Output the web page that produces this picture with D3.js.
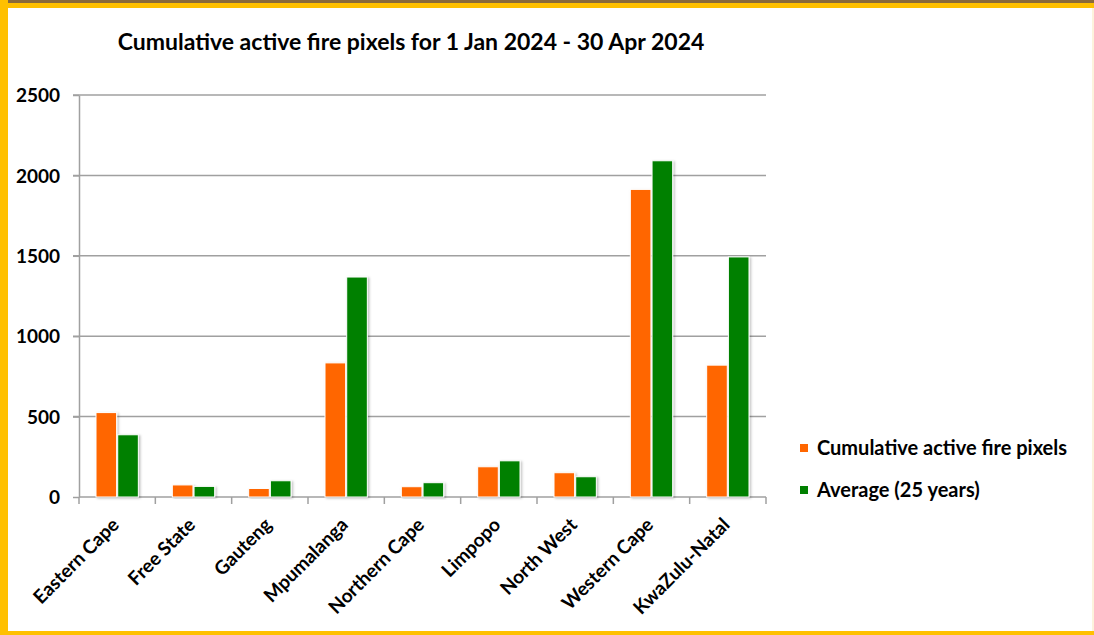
<!DOCTYPE html>
<meta charset="utf-8">
<style>
  body { margin: 0; background: #fff; }
  text { font-family: Lato, "Open Sans", sans-serif; font-weight: bold; fill: #000; }
  .grid line { stroke: #a0a0a0; stroke-width: 1.5px; }
  .axis path, .axis line { stroke: #a0a0a0; stroke-width: 1.5px; }
</style>
<body></body>
<script src="https://d3js.org/d3.v7.min.js"></script>
<script>
  var provinces = ["Eastern Cape", "Free State", "Gauteng", "Mpumalanga", "Northern Cape",
    "Limpopo", "North West", "Western Cape", "KwaZulu-Natal"];
  var cumulative = [525, 75, 53, 834, 64, 188, 151, 1913, 820];
  var average = [387, 66, 101, 1368, 89, 225, 126, 2091, 1493];
  var seriesNames = ["Cumulative active fire pixels", "Average (25 years)"];
  var seriesColors = ["#ff6600", "#008000"];
  var yTicks = [0, 500, 1000, 1500, 2000, 2500];

  var W = 1094, H = 635;
  var plotLeft = 79, plotRight = 766, plotTop = 95, plotBottom = 497;

  var svg = d3.select("body").append("svg")
    .attr("width", W)
    .attr("height", H);

  var defs = svg.append("defs");
  var f = defs.append("filter").attr("id", "shadow")
    .attr("x", "-20%").attr("y", "-5%").attr("width", "150%").attr("height", "120%");
  f.append("feDropShadow").attr("dx", 1.5).attr("dy", 1).attr("stdDeviation", 1)
    .attr("flood-color", "#000").attr("flood-opacity", 0.25);

  // frame
  svg.append("rect").attr("width", W).attr("height", H).attr("fill", "#fff");
  svg.append("rect").attr("x", 0).attr("y", 0).attr("width", W).attr("height", 3).attr("fill", "#8a6a3a");
  svg.append("rect").attr("x", 0).attr("y", 3).attr("width", W).attr("height", 5).attr("fill", "#ffc000");
  svg.append("rect").attr("x", 0).attr("y", 0).attr("width", 8).attr("height", H).attr("fill", "#ffc000");
  svg.append("rect").attr("x", 0).attr("y", 631).attr("width", W).attr("height", 4).attr("fill", "#ffc000");
  svg.append("rect").attr("x", 1092).attr("y", 8).attr("width", 2).attr("height", 623).attr("fill", "#fdf3dc");

  var x = d3.scaleBand().domain(provinces).range([plotLeft, plotRight]);
  var x1 = d3.scaleBand().domain([0, 1]).range([17, x.bandwidth() - 17]).paddingInner(0.05);
  var y = d3.scaleLinear().domain([0, 2500]).range([plotBottom, plotTop]);

  svg.append("text")
    .attr("x", 411)
    .attr("y", 50)
    .attr("text-anchor", "middle")
    .style("font-size", "23px")
    .text("Cumulative active fire pixels for 1 Jan 2024 - 30 Apr 2024");

  // gridlines
  svg.append("g").attr("class", "grid")
    .selectAll("line")
    .data(yTicks.slice(1))
    .join("line")
    .attr("x1", plotLeft - 6).attr("x2", plotRight)
    .attr("y1", d => y(d)).attr("y2", d => y(d));

  // y axis
  var yAxis = svg.append("g").attr("class", "axis")
    .attr("transform", "translate(" + plotLeft + ",0)")
    .call(d3.axisLeft(y).tickValues(yTicks).tickFormat(d3.format("d"))
      .tickSize(6).tickSizeOuter(0).tickPadding(13));
  yAxis.selectAll("text").style("font-size", "19px").attr("dy", "0.35em");

  // x axis
  var xAxis = svg.append("g").attr("class", "axis")
    .attr("transform", "translate(0," + plotBottom + ")");
  xAxis.append("line").attr("x1", plotLeft).attr("x2", plotRight);
  xAxis.selectAll(".tk")
    .data(d3.range(provinces.length + 1))
    .join("line")
    .attr("class", "tk")
    .attr("x1", i => plotLeft + i * x.bandwidth()).attr("x2", i => plotLeft + i * x.bandwidth())
    .attr("y1", 0).attr("y2", 7);
  xAxis.selectAll(".lbl")
    .data(provinces)
    .join("text")
    .attr("class", "lbl")
    .attr("text-anchor", "end")
    .attr("transform", d => "translate(" + (x(d) + x.bandwidth() / 2 + 3) + ",29) rotate(-45)")
    .style("font-size", "19px")
    .text(d => d);

  // bars
  var series = [cumulative, average];
  var groups = svg.append("g")
    .selectAll("g")
    .data(series)
    .join("g")
    .attr("fill", (d, i) => seriesColors[i]);
  groups.each(function(vals, si) {
    d3.select(this).selectAll("rect")
      .data(vals)
      .join("rect")
      .attr("x", (v, i) => x(provinces[i]) + x1(si))
      .attr("width", x1.bandwidth())
      .attr("y", v => y(v))
      .attr("height", v => plotBottom - y(v))
      .attr("stroke", "#fff")
      .attr("stroke-width", 1)
      .attr("filter", "url(#shadow)");
  });

  // legend
  var legend = svg.append("g")
    .selectAll("g")
    .data(seriesNames)
    .join("g")
    .attr("transform", (d, i) => "translate(800," + (444 + i * 42) + ")");
  legend.append("rect")
    .attr("width", 8).attr("height", 8)
    .attr("fill", (d, i) => seriesColors[i]);
  legend.append("text")
    .attr("x", 17).attr("y", 11)
    .style("font-size", "20px")
    .text(d => d);
</script>
